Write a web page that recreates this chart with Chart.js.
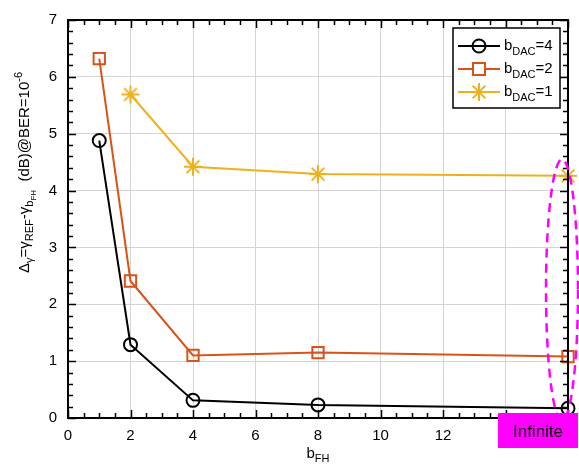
<!DOCTYPE html>
<html>
<head>
<meta charset="utf-8">
<script src="https://cdn.jsdelivr.net/npm/chart.js@4"></script>
<style>
  body { margin: 0; background: #fff; }
</style>
</head>
<body>
<canvas id="chart" width="579" height="467"></canvas>
<script>
// x positions (b_FH); 16 stands for "Infinite"
const bFH = [1, 2, 4, 8, 16];
const bFH_dac1 = [2, 4, 8, 16];
const dac4 = [4.88, 1.29, 0.31, 0.23, 0.17];
const dac2 = [6.32, 2.41, 1.10, 1.15, 1.08];
const dac1 = [5.69, 4.42, 4.29, 4.26];
const seriesNames = ['=4', '=2', '=1'];
const xTicks = [0, 2, 4, 6, 8, 10, 12];

const FONT = "'Liberation Sans', Arial, sans-serif";
const colors = ['#000000', '#D95319', '#EDB120'];

// MATLAB-style asterisk marker (plus + cross)
function asterisk(color, r) {
  const c = document.createElement('canvas');
  c.width = c.height = 2 * r + 4;
  const g = c.getContext('2d');
  g.strokeStyle = color;
  g.lineWidth = 2;
  const cx = r + 2, cy = r + 2;
  const d = r * Math.SQRT1_2;
  g.beginPath();
  g.moveTo(cx, cy - r); g.lineTo(cx, cy + r);
  g.moveTo(cx - r, cy); g.lineTo(cx + r, cy);
  g.moveTo(cx - d, cy - d); g.lineTo(cx + d, cy + d);
  g.moveTo(cx - d, cy + d); g.lineTo(cx + d, cy - d);
  g.stroke();
  return c;
}
const starImg = asterisk(colors[2], 9);

// draw text runs with sub/superscripts
function drawRuns(ctx, runs, x, y) {
  let cx = x;
  runs.forEach(r => {
    ctx.font = r.size + 'px ' + FONT;
    ctx.fillText(r.t, cx, y + (r.dy || 0));
    cx += ctx.measureText(r.t).width;
  });
  return cx - x;
}
function runsWidth(ctx, runs) {
  let w = 0;
  runs.forEach(r => { ctx.font = r.size + 'px ' + FONT; w += ctx.measureText(r.t).width; });
  return w;
}

const decor = {
  id: 'decor',
  afterDraw(chart) {
    const { ctx, chartArea: a, scales: { x, y } } = chart;
    ctx.save();
    ctx.setLineDash([]);
    // inward ticks
    ctx.strokeStyle = '#000000';
    ctx.lineWidth = 1.5;
    for (let k = 0; k <= 32; k++) {
      const v = k * 0.5;
      const px = Math.round(x.getPixelForValue(v)) + 0.5;
      const len = k % 4 === 0 ? 8 : 5;
      ctx.beginPath();
      ctx.moveTo(px, a.bottom); ctx.lineTo(px, a.bottom - len);
      ctx.moveTo(px, a.top); ctx.lineTo(px, a.top + len);
      ctx.stroke();
    }
    for (let k = 0; k <= 35; k++) {
      const v = k * 0.2;
      const py = Math.round(y.getPixelForValue(v)) + 0.5;
      const len = k % 5 === 0 ? 8 : 5;
      ctx.beginPath();
      ctx.moveTo(a.left, py); ctx.lineTo(a.left + len, py);
      ctx.moveTo(a.right, py); ctx.lineTo(a.right - len, py);
      ctx.stroke();
    }
    // box
    ctx.lineWidth = 2;
    ctx.strokeRect(a.left, a.top, a.right - a.left, a.bottom - a.top);

    // dashed ellipse around the "Infinite" points
    const ex = x.getPixelForValue(16) - 6;
    const yTop = y.getPixelForValue(4.55), yBot = y.getPixelForValue(-0.05);
    ctx.strokeStyle = '#FF00FF';
    ctx.lineWidth = 2.5;
    ctx.setLineDash([9, 6]);
    ctx.beginPath();
    ctx.ellipse(ex, (yTop + yBot) / 2, 16, (yBot - yTop) / 2, 0, 0, Math.PI * 2);
    ctx.stroke();
    ctx.setLineDash([]);

    // "Infinite" box
    ctx.fillStyle = '#FF00FF';
    ctx.fillRect(498, 413, 80, 35);
    ctx.fillStyle = '#000';
    ctx.font = '17px ' + FONT;
    ctx.textAlign = 'center';
    ctx.textBaseline = 'middle';
    ctx.fillText('Infinite', 538, 432);

    // x title
    ctx.textAlign = 'left';
    ctx.textBaseline = 'alphabetic';
    const xr = [{ t: 'b', size: 15 }, { t: 'FH', size: 11, dy: 4 }];
    drawRuns(ctx, xr, (a.left + a.right) / 2 - runsWidth(ctx, xr) / 2, 458);

    // y title
    const yr = [
      { t: 'Δ', size: 15 }, { t: 'γ', size: 11, dy: 4 },
      { t: '=γ', size: 15 }, { t: 'REF', size: 11, dy: 4 },
      { t: '-γ', size: 15 }, { t: 'b', size: 11, dy: 4 }, { t: 'FH', size: 8, dy: 7 },
      { t: '  (dB)@BER=10', size: 15 }, { t: '-6', size: 11, dy: -7 }
    ];
    ctx.save();
    ctx.translate(29, 273);
    ctx.rotate(-Math.PI / 2);
    drawRuns(ctx, yr, 0, 0);
    ctx.restore();

    // legend
    const lx = 453, ly = 28, lw = 107, lh = 80;
    ctx.fillStyle = '#fff';
    ctx.fillRect(lx, ly, lw, lh);
    ctx.strokeStyle = '#000';
    ctx.lineWidth = 1.5;
    ctx.strokeRect(lx, ly, lw, lh);
    chart.data.datasets.forEach((ds, i) => {
      const cy = ly + 18 + i * 23;
      ctx.strokeStyle = ds.borderColor;
      ctx.lineWidth = 2;
      ctx.beginPath();
      ctx.moveTo(lx + 5, cy); ctx.lineTo(lx + 47, cy);
      ctx.stroke();
      if (i === 0) {
        ctx.beginPath(); ctx.arc(lx + 26, cy, 6.5, 0, Math.PI * 2); ctx.stroke();
      } else if (i === 1) {
        ctx.fillStyle = '#fff';
        ctx.fillRect(lx + 20, cy - 6, 12, 12);
        ctx.strokeRect(lx + 20, cy - 6, 12, 12);
      } else {
        ctx.drawImage(starImg, lx + 26 - starImg.width / 2, cy - starImg.height / 2);
      }
      ctx.fillStyle = '#000';
      drawRuns(ctx, [{ t: 'b', size: 15 }, { t: 'DAC', size: 11, dy: 5 }, { t: seriesNames[i], size: 15 }], lx + 51, cy + 4);
    });
    ctx.restore();
  }
};

new Chart(document.getElementById('chart'), {
  type: 'line',
  data: {
    datasets: [
      {
        data: bFH.map((v, i) => ({ x: v, y: dac4[i] })),
        borderColor: colors[0], borderWidth: 2,
        pointStyle: 'circle', pointRadius: 6.5, pointBorderWidth: 2,
        pointBackgroundColor: 'rgba(0,0,0,0)', pointBorderColor: colors[0]
      },
      {
        data: bFH.map((v, i) => ({ x: v, y: dac2[i] })),
        borderColor: colors[1], borderWidth: 2,
        pointStyle: 'rect', pointRadius: 8, pointBorderWidth: 2,
        pointBackgroundColor: 'rgba(0,0,0,0)', pointBorderColor: colors[1]
      },
      {
        data: bFH_dac1.map((v, i) => ({ x: v, y: dac1[i] })),
        borderColor: colors[2], borderWidth: 2,
        pointStyle: starImg, pointRadius: 9
      }
    ]
  },
  options: {
    responsive: false,
    animation: false,
    clip: false,
    layout: { padding: { top: 17, right: 8, left: 0, bottom: 0 } },
    plugins: { legend: { display: false }, tooltip: { enabled: false } },
    scales: {
      x: {
        type: 'linear', min: 0, max: 16,
        afterFit: s => { s.height = 49; },
        afterBuildTicks: s => { s.ticks = [0, 2, 4, 6, 8, 10, 12, 14, 16].map(v => ({ value: v })); },
        grid: { color: '#d4d4d4', lineWidth: 1, drawTicks: false },
        border: { display: false },
        ticks: {
          padding: 9, color: '#000', font: { size: 15, family: FONT }, maxRotation: 0,
          callback: v => xTicks.includes(v) ? String(v) : ''
        }
      },
      y: {
        type: 'linear', min: 0, max: 7,
        afterFit: s => { s.width = 68; },
        grid: { color: '#d4d4d4', lineWidth: 1, drawTicks: false },
        border: { display: false },
        ticks: { stepSize: 1, padding: 11, color: '#000', font: { size: 15, family: FONT } }
      }
    }
  },
  plugins: [decor]
});
</script>
</body>
</html>
